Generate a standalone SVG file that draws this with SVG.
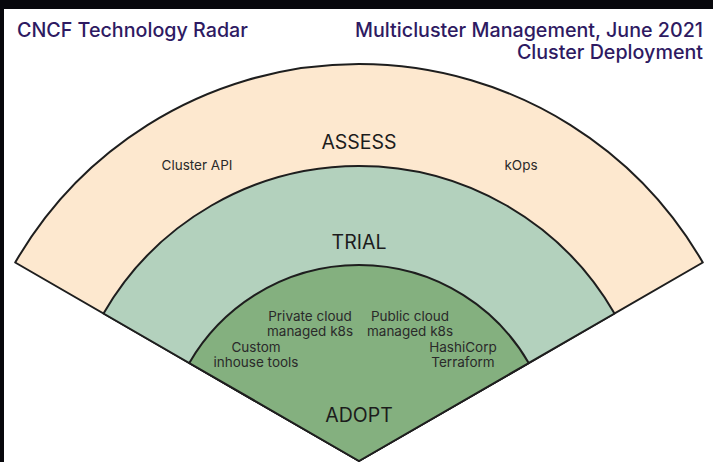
<svg xmlns="http://www.w3.org/2000/svg" width="713" height="462" viewBox="0 0 713 462">
<style>
.ring{stroke:#1e1e1e;stroke-width:2;stroke-linejoin:round}
.ring-label{font-family:Inter,"Liberation Sans",sans-serif;font-size:19.5px;fill:#1c1c1c;text-anchor:middle}
.item{font-family:Inter,"Liberation Sans",sans-serif;font-size:13.5px;fill:#2a2a2a;text-anchor:middle}
.head{font-family:Inter,"Liberation Sans",sans-serif;font-size:19.7px;font-weight:500;fill:#2e1a62}
</style>
<rect width="713" height="462" fill="#07070c"/>
<rect x="4" y="9" width="709" height="453" fill="#ffffff"/>
<g id="header">
<text class="head" x="17" y="37">CNCF Technology Radar</text>
<text class="head" x="703" y="37" text-anchor="end">Multicluster Management, June 2021</text>
<text class="head" x="703" y="59" text-anchor="end">Cluster Deployment</text>
</g>
<g id="assess">
<path class="ring" fill="#fde8cf" d="M359 461 L15.2 262.5 A397 397 0 0 1 702.8 262.5 Z"/>
<text class="ring-label" x="359" y="149">ASSESS</text>
</g>
<g id="trial">
<path class="ring" fill="#b3d1bd" d="M359 461 L103.5 313.5 A295 295 0 0 1 614.5 313.5 Z"/>
<text class="ring-label" x="359" y="249">TRIAL</text>
</g>
<g id="adopt">
<path class="ring" fill="#84b07f" d="M359 461 L189.3 363 A196 196 0 0 1 528.7 363 Z"/>
<text class="ring-label" x="359" y="422">ADOPT</text>
</g>
<g id="item-cluster-api"><text class="item" x="197" y="170">Cluster API</text></g>
<g id="item-kops"><text class="item" x="521" y="170">kOps</text></g>
<g id="item-private-cloud"><text class="item" x="310" y="321">Private cloud<tspan x="310" dy="14.5">managed k8s</tspan></text></g>
<g id="item-public-cloud"><text class="item" x="410" y="321">Public cloud<tspan x="410" dy="14.5">managed k8s</tspan></text></g>
<g id="item-custom"><text class="item" x="256" y="352">Custom<tspan x="256" dy="14.5">inhouse tools</tspan></text></g>
<g id="item-terraform"><text class="item" x="463" y="352">HashiCorp<tspan x="463" dy="14.5">Terraform</tspan></text></g>
<g id="connectors"></g>
</svg>
